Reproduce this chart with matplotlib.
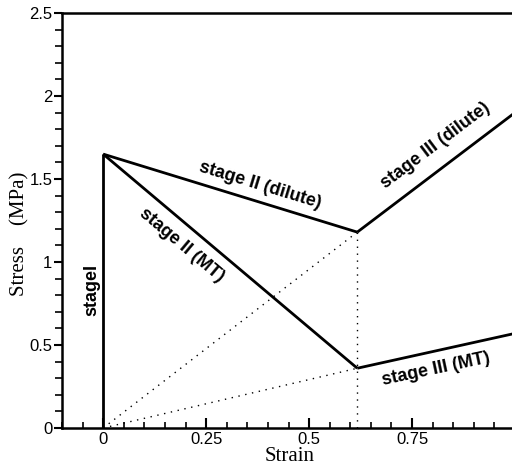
import matplotlib
matplotlib.use("Agg")
import matplotlib.pyplot as plt
from matplotlib.ticker import MultipleLocator

# data
stage1_x = [0.0, 0.0]
stage1_y = [0.0, 1.65]
dilute2_x = [0.0, 0.617]
dilute2_y = [1.65, 1.18]
mt2_x = [0.0, 0.617]
mt2_y = [1.65, 0.36]
dilute3_x = [0.617, 1.0]
dilute3_y = [1.18, 1.90]
mt3_x = [0.617, 1.0]
mt3_y = [0.36, 0.57]
dot_dilute_x = [0.0, 0.617]
dot_dilute_y = [0.0, 1.18]
dot_mt_x = [0.0, 0.617]
dot_mt_y = [0.0, 0.36]
dot_vert_x = [0.617, 0.617]
dot_vert_y = [0.0, 1.18]

W, H = 512, 469
fig = plt.figure(figsize=(W/100, H/100), dpi=100)
ax = fig.add_axes([62/W, 41/H, 453/W, 415/H])

lw = 2.0
for xs, ys in [(stage1_x, stage1_y), (dilute2_x, dilute2_y), (mt2_x, mt2_y),
               (dilute3_x, dilute3_y), (mt3_x, mt3_y)]:
    ax.plot(xs, ys, color='black', lw=lw, solid_capstyle='butt', solid_joinstyle='miter')
for xs, ys in [(dot_dilute_x, dot_dilute_y), (dot_mt_x, dot_mt_y), (dot_vert_x, dot_vert_y)]:
    ax.plot(xs, ys, color='black', lw=1.0, linestyle=(0, (1, 4)))

ax.set_xlim(-0.1, 1.0)
ax.set_ylim(0, 2.5)
ax.spines['right'].set_visible(False)
for s in ['left', 'bottom', 'top']:
    ax.spines[s].set_linewidth(1.8)

ax.xaxis.set_minor_locator(MultipleLocator(0.05))
ax.yaxis.set_minor_locator(MultipleLocator(0.1))
ax.set_xticks([0, 0.25, 0.5, 0.75])
ax.set_xticklabels(['0', '0.25', '0.5', '0.75'])
ax.set_yticks([0, 0.5, 1, 1.5, 2, 2.5])
ax.set_yticklabels(['0', '0.5', '1', '1.5', '2', '2.5'])
ax.tick_params(axis='x', which='major', direction='in', length=7, width=1.5, labelsize=12, pad=3)
ax.tick_params(axis='x', which='minor', direction='in', length=4, width=1.2)
ax.tick_params(axis='y', which='major', direction='out', length=6, width=1.5, labelsize=12, pad=1)
ax.tick_params(axis='y', which='minor', direction='out', length=5, width=1.2)
ax.tick_params(top=False, right=False, which='both')
for lab in ax.get_xticklabels() + ax.get_yticklabels():
    lab.set_family('Liberation Sans')

ax.set_xlabel('Strain', family='Liberation Serif', fontsize=15)
ax.xaxis.set_label_coords((290 - 62) / 453, -(456 - 428) / 415)
ax.xaxis.label.set_va('center')
ax.set_ylabel('Stress    (MPa)', family='Liberation Serif', fontsize=15)
ax.yaxis.set_label_coords(-(62 - 20) / 453, (428 - 234) / 415)
ax.yaxis.label.set_va('center')

tf = dict(family='Liberation Sans', fontweight='bold', fontsize=13, ha='center', va='center',
          rotation_mode='anchor')
ax.text(-0.028, 0.83, 'stageI', rotation=90, **tf)
ax.text(0.38, 1.46, 'stage II (dilute)', rotation=-17, **tf)
ax.text(0.19, 1.10, 'stage II (MT)', rotation=-40, **tf)
ax.text(0.808, 1.70, 'stage III (dilute)', rotation=37, **tf)
ax.text(0.808, 0.355, 'stage III (MT)', rotation=12, **tf)

fig.savefig('out.png', dpi=100)
